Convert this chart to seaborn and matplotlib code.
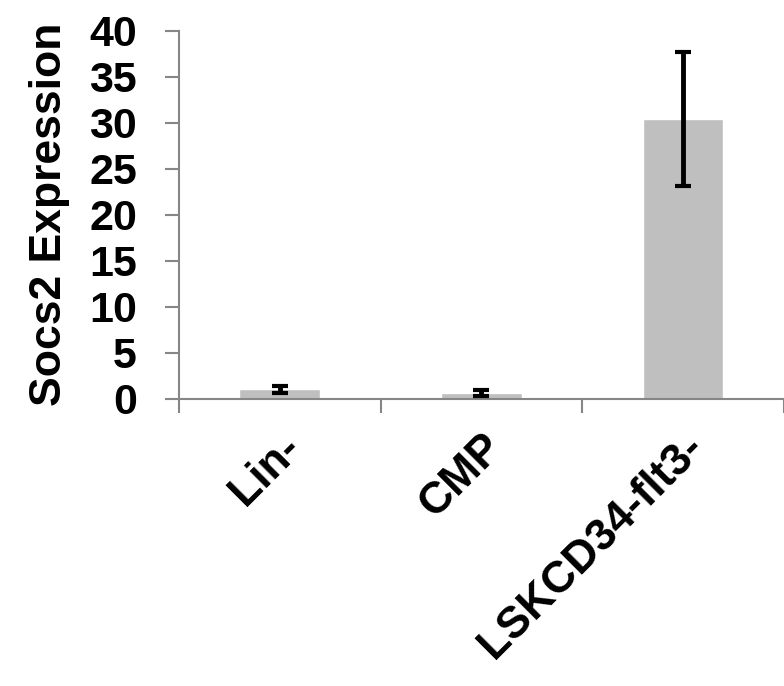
import matplotlib
matplotlib.use("Agg")
import matplotlib.pyplot as plt
import seaborn as sns
import pandas as pd
from matplotlib.ticker import FixedLocator

categories = ["Lin-", "CMP", "LSKCD34-flt3-"]
values = [1.0, 0.6, 30.4]
errors = [0.4, 0.35, 7.25]
yticks = [0, 5, 10, 15, 20, 25, 30, 35, 40]

sns.set_theme(style="white")
plt.rcParams['font.family'] = ['Liberation Sans', 'DejaVu Sans']
plt.rcParams['font.weight'] = 'bold'
plt.rcParams['text.color'] = 'black'
plt.rcParams['axes.labelcolor'] = 'black'

df = pd.DataFrame({"cat": categories, "val": values})

fig = plt.figure(figsize=(7.84, 6.86), dpi=100)
ax = fig.add_axes([0.228, 0.419, 0.772, 0.536])

sns.barplot(data=df, x="cat", y="val", color="#BFBFBF", saturation=1,
            width=0.4, errorbar=None, ax=ax)
ax.errorbar(range(len(categories)), values, yerr=errors, fmt="none",
            ecolor="black", elinewidth=3.5, capsize=6, capthick=3, zorder=5)

ax.set_xlim(-0.5, 2.5)
ax.set_ylim(0, 40)
ax.set_yticks(yticks)
ax.set_yticklabels([str(t) for t in yticks], fontsize=31, fontweight='bold')
ax.set_xticks(range(len(categories)))
ax.set_xticklabels(categories, fontsize=32, fontweight='bold', rotation=45,
                   ha='right', rotation_mode='anchor')
ax.xaxis.set_minor_locator(FixedLocator([-0.5, 0.5, 1.5, 2.5]))
ax.tick_params(axis='x', which='major', length=0, pad=20, labelcolor='black')
ax.tick_params(axis='x', which='minor', length=10, width=1.5, color='#868686', direction='out', bottom=True)
ax.tick_params(axis='y', which='major', length=10, width=1.5, color='#868686', direction='out', left=True,
               pad=20, labelcolor='black')
ax.set_xlabel("")
ax.set_ylabel("Socs2 Expression", fontsize=32, fontweight='bold', labelpad=14)

for s in ["top", "right"]:
    ax.spines[s].set_visible(False)
for s in ["left", "bottom"]:
    ax.spines[s].set_color('#868686')
    ax.spines[s].set_linewidth(1.5)

fig.savefig("out.png", dpi=100)
